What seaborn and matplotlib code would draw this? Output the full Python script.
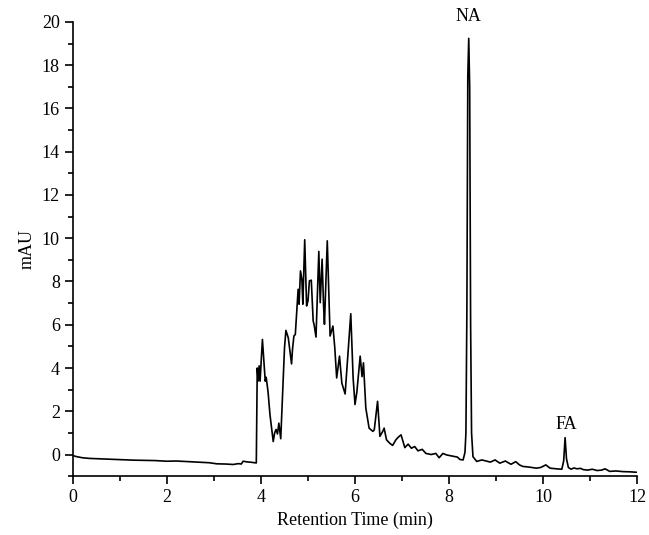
import numpy as np
import pandas as pd
import matplotlib
matplotlib.use('Agg')
import matplotlib.pyplot as plt
import seaborn as sns
from matplotlib.ticker import MultipleLocator

# chromatogram trace (time in min, signal in mAU)
time_min = [
    0.00, 0.06, 0.20, 0.35, 0.57, 0.80, 1.00, 1.28, 1.50, 1.75, 1.99, 2.20, 2.45,
    2.70, 2.90, 3.06, 3.25, 3.41, 3.52, 3.58, 3.62, 3.70, 3.80, 3.90,
    3.92, 3.94, 3.96, 3.98, 4.03, 4.09, 4.11, 4.15, 4.19, 4.26, 4.29, 4.32, 4.35,
    4.38, 4.42, 4.50, 4.53, 4.58, 4.62, 4.65, 4.67, 4.70, 4.73, 4.77, 4.79, 4.81,
    4.84, 4.87, 4.89, 4.93, 4.97, 5.00, 5.03, 5.07, 5.11, 5.13, 5.17, 5.23, 5.26,
    5.30, 5.33, 5.35, 5.41, 5.47, 5.53, 5.57, 5.61, 5.67, 5.72, 5.79, 5.84, 5.91,
    5.96, 6.00, 6.04, 6.11, 6.15, 6.18, 6.23, 6.30, 6.38, 6.41, 6.48, 6.53, 6.59,
    6.62, 6.67, 6.74, 6.80, 6.87, 6.92, 6.98, 7.06, 7.13, 7.20, 7.27, 7.34, 7.43,
    7.51, 7.62, 7.72, 7.79, 7.87, 7.95, 8.02, 8.10, 8.18, 8.23, 8.30,
    8.34, 8.36, 8.38, 8.40, 8.42, 8.44, 8.46, 8.48, 8.51, 8.59, 8.70, 8.79, 8.88,
    8.95, 8.98, 9.08, 9.20, 9.26, 9.32, 9.42, 9.50, 9.57, 9.70, 9.86, 9.95, 10.06,
    10.15, 10.28, 10.40, 10.44, 10.47, 10.50, 10.54, 10.60, 10.66, 10.72, 10.80,
    10.86, 10.95, 11.05, 11.15, 11.25, 11.32, 11.42, 11.55, 11.70, 11.85, 11.99,
]
signal_mau = [
    -0.05, -0.09, -0.15, -0.18, -0.20, -0.22, -0.24, -0.26, -0.27, -0.28, -0.31,
    -0.30, -0.33, -0.36, -0.38, -0.43, -0.44, -0.46, -0.42, -0.44, -0.31, -0.34,
    -0.36, -0.39,
    4.00, 3.40, 4.10, 3.39, 5.32, 3.39, 3.57, 2.90, 1.86, 0.60, 1.00, 1.16, 0.95,
    1.45, 0.73, 4.93, 5.74, 5.40, 4.70, 4.19, 4.86, 5.48, 5.55, 6.95, 7.64, 6.95,
    8.49, 8.10, 6.95, 9.93, 6.87, 7.10, 8.03, 8.06, 6.17, 6.00, 5.43, 9.39, 7.02,
    9.03, 6.95, 6.02, 9.88, 5.48, 5.94, 4.93, 3.54, 4.55, 3.30, 2.80, 4.36, 6.51,
    3.54, 2.31, 2.90, 4.55, 3.60, 4.24, 2.15, 1.22, 1.07, 1.14, 2.46, 0.84, 1.07,
    1.22, 0.68, 0.52, 0.42, 0.68, 0.80, 0.91, 0.32, 0.48, 0.29, 0.37, 0.17, 0.24,
    0.05, 0.00, 0.05, -0.15, 0.05, -0.02, -0.05, -0.08, -0.12, -0.23, -0.25,
    0.10, 1.00, 6.50, 17.50, 19.24, 17.00, 6.00, 1.00, -0.10, -0.32, -0.25, -0.30,
    -0.35, -0.28, -0.25, -0.40, -0.30, -0.38, -0.45, -0.33, -0.48, -0.55, -0.58,
    -0.63, -0.60, -0.48, -0.63, -0.66, -0.68, -0.30, 0.78, -0.20, -0.60, -0.68,
    -0.62, -0.66, -0.64, -0.70, -0.72, -0.68, -0.74, -0.72, -0.66, -0.78, -0.76,
    -0.79, -0.80, -0.82,
]

peak_names = ['NA', 'FA']
peak_x = [8.42, 10.49]
peak_label_y = [20.25, 1.40]

df = pd.DataFrame({'Time': time_min, 'Signal': signal_mau})

sns.set_style('ticks')
plt.rcParams['font.family'] = ['Liberation Serif', 'DejaVu Serif']
plt.rcParams['text.color'] = 'black'

fig = plt.figure(figsize=(6.49, 5.35), dpi=100)
ax = fig.add_axes([0.1125, 0.110, 0.869, 0.849])

sns.lineplot(data=df, x='Time', y='Signal', ax=ax, color='black',
             linewidth=1.2, estimator=None, sort=False)

for name, px, py in zip(peak_names, peak_x, peak_label_y):
    ax.text(px, py, name, ha='center', va='center', fontsize=13,
            color='black', clip_on=False)

ax.set_xlim(0, 12)
ax.set_ylim(-1, 20)
ax.xaxis.set_major_locator(MultipleLocator(2))
ax.xaxis.set_minor_locator(MultipleLocator(1))
ax.yaxis.set_major_locator(MultipleLocator(2))
ax.yaxis.set_minor_locator(MultipleLocator(1))
ax.tick_params(which='major', direction='out', length=6, width=1.2,
               labelsize=13, color='black', labelcolor='black')
ax.tick_params(which='minor', direction='out', length=3.5, width=1.2, color='black')
ax.set_xlabel('Retention Time (min)', fontsize=13, color='black')
ax.set_ylabel('mAU', fontsize=13, color='black')
sns.despine(ax=ax)
for sp in ['left', 'bottom']:
    ax.spines[sp].set_linewidth(1.2)
    ax.spines[sp].set_color('black')

fig.savefig('out.png', dpi=100)
